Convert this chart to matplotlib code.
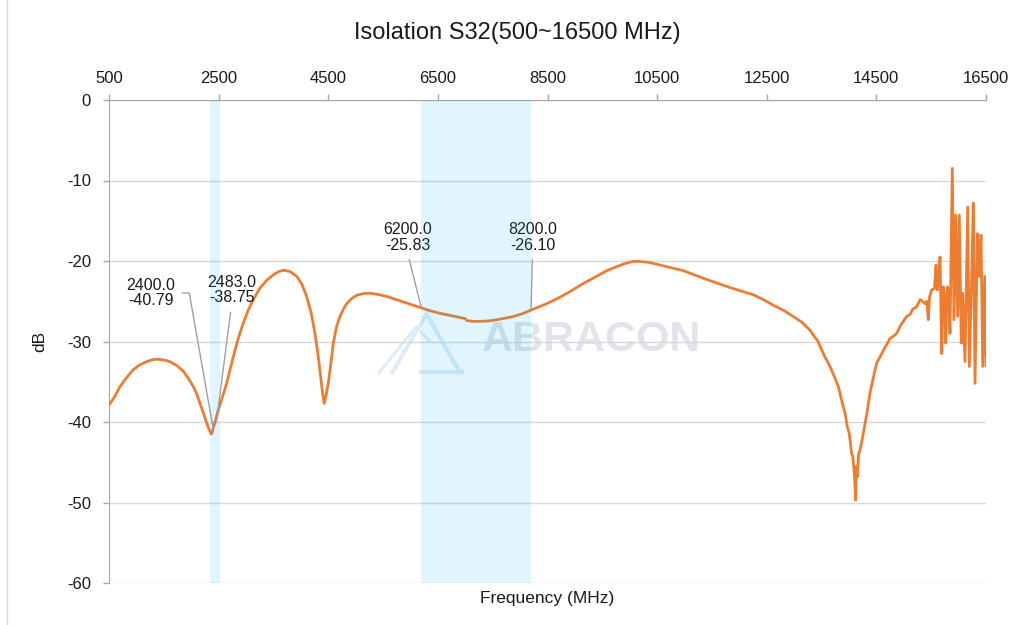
import numpy as np
import matplotlib
matplotlib.use("Agg")
import matplotlib.pyplot as plt
from matplotlib.lines import Line2D

plt.rcParams["font.family"] = ["Liberation Sans", "DejaVu Sans"]
plt.rcParams["axes.unicode_minus"] = False

# S32 trace (MHz, dB)
freq = [500, 600, 700, 820, 943, 1060, 1188, 1300, 1400, 1500, 1613, 1740, 1856, 1950,
        2038, 2100, 2160, 2220, 2282, 2330, 2365, 2385, 2400, 2440, 2483, 2560, 2647,
        2700, 2768, 2850, 2950, 3040, 3133, 3250, 3377, 3500, 3600, 3690, 3800, 3924,
        4020, 4106, 4190, 4258, 4320, 4362, 4400, 4425, 4450, 4501, 4550, 4592, 4654,
        4714, 4775, 4836, 4920, 5019, 5140, 5262, 5400, 5566, 5720, 5870, 6050, 6200,
        6370, 6539, 6750, 6964, 7000, 7025, 7150, 7269, 7420, 7573, 7730, 7877, 8040,
        8200, 8340, 8485, 8700, 8910, 9150, 9397, 9580, 9762, 9920, 10065, 10190, 10370,
        10552, 10760, 10978, 11190, 11404, 11620, 11830, 12040, 12255, 12440, 12620,
        12800, 12985, 13140, 13289, 13380, 13430, 13472, 13560, 13654, 13730, 13806,
        13870, 13928, 13970, 14000, 14019, 14050, 14070, 14080, 14100, 14122, 14135,
        14152, 14175, 14201, 14240, 14292, 14330, 14383, 14440, 14505, 14560, 14627,
        14688, 14748, 14800, 14870, 14950, 15052, 15120, 15160, 15235, 15296, 15340,
        15387, 15420, 15447, 15470, 15509, 15560, 15588, 15611, 15640, 15661, 15692,
        15721, 15745, 15765, 15794, 15820, 15843, 15885, 15916, 15947, 15983, 16013,
        16049, 16075, 16117, 16166, 16195, 16239, 16268, 16300, 16342, 16378, 16409,
        16440, 16476, 16500]
s32 = [-37.9, -36.9, -35.6, -34.5, -33.5, -32.9, -32.5, -32.25, -32.2, -32.3, -32.5, -33.0,
       -33.7, -34.6, -35.6, -36.5, -37.7, -38.9, -40.1, -41.0, -41.5, -41.3, -40.79, -39.9,
       -38.75, -37.1, -35.2, -33.7, -31.9, -29.8, -27.7, -26.1, -24.8, -23.4, -22.4, -21.7,
       -21.3, -21.15, -21.3, -21.9, -22.9, -24.4, -26.5, -29.0, -32.0, -34.4, -36.6, -37.7,
       -37.0, -35.2, -32.6, -30.2, -28.1, -26.9, -26.0, -25.3, -24.7, -24.25, -24.05, -24.0,
       -24.15, -24.4, -24.75, -25.1, -25.5, -25.83, -26.2, -26.5, -26.8, -27.1, -27.15,
       -27.4, -27.5, -27.5, -27.45, -27.3, -27.1, -26.9, -26.55, -26.10, -25.7, -25.3,
       -24.6, -23.8, -22.8, -21.9, -21.2, -20.7, -20.3, -20.05, -20.05, -20.2, -20.5,
       -20.85, -21.2, -21.75, -22.3, -22.8, -23.3, -23.75, -24.2, -24.8, -25.5, -26.1,
       -26.9, -27.6, -28.6, -29.5, -29.9, -30.6, -31.9, -33.1, -34.3, -35.6, -37.4, -38.9,
       -40.6, -41.3, -42.2, -44.0, -44.2, -45.1, -46.5, -49.7, -45.5, -46.8, -44.0, -43.5,
       -42.2, -40.2, -38.8, -36.4, -34.6, -32.7, -32.0, -31.1, -30.4, -29.6, -29.4, -29.0,
       -27.9, -26.9, -26.6, -26.0, -25.7, -24.8, -25.0, -25.3, -25.0, -27.3, -24.5, -23.6,
       -23.4, -20.5, -23.6, -22.0, -19.5, -31.5, -23.2, -24.5, -30.2, -23.2, -24.0, -29.0,
       -8.5, -27.3, -14.3, -26.9, -14.3, -30.2, -24.0, -32.5, -13.3, -33.1, -21.9, -12.8,
       -35.2, -16.6, -21.9, -16.8, -33.1, -21.9, -33.0]

# highlighted bands (MHz)
band_lo = [2345, 6200]
band_hi = [2530, 8200]

# marker labels
mark_f = [2400.0, 2483.0, 6200.0, 8200.0]
mark_db = [-40.79, -38.75, -25.83, -26.10]

x_ticks = list(range(500, 16501, 2000))
y_ticks = list(range(-60, 1, 10))

fig = plt.figure(figsize=(10.16, 6.25), dpi=100)
ax = fig.add_axes([109 / 1016, 1 - 583 / 625, 877 / 1016, 483 / 625])

ax.plot(freq, s32, color="#ED7D31", lw=2.0, zorder=3, solid_joinstyle="round")

for lo, hi in zip(band_lo, band_hi):
    ax.axvspan(lo, hi, facecolor="#00B0F0", alpha=0.12, lw=0, zorder=6)

# labels: text centre positions in data units
text_pos = [(1266, -23.98), (2735, -23.6), (5946, -17.08), (8226, -17.08)]
conn = ["angle,angleA=0,angleB=100,rad=0", "arc3", "arc3", "arc3"]
rel = [(1.0, 0.5), (0.5, 0.0), (0.5, 0.0), (0.5, 0.0)]
for f, d, tp, cs, rp in zip(mark_f, mark_db, text_pos, conn, rel):
    ax.annotate(f"{f:.1f}\n{d:.2f}", xy=(f, d), xytext=tp, ha="center", va="center",
                fontsize=11.5, color="#1a1a1a", linespacing=1.05, zorder=5,
                arrowprops=dict(arrowstyle="-", color="#a0a0a0", lw=1.0,
                                shrinkA=3, shrinkB=0, connectionstyle=cs, relpos=rp))

# watermark
ax.text(0.55, 0.503, "ABRACON", transform=ax.transAxes, ha="center", va="center",
        fontsize=31, fontweight="bold", color="#e1e4eb", zorder=0.3)
ax.plot([0.323, 0.362, 0.40], [0.436, 0.557, 0.436], transform=ax.transAxes,
        color="#dcecf8", lw=3, zorder=0.3)
ax.plot([0.308, 0.350, 0.366], [0.436, 0.53, 0.50], transform=ax.transAxes,
        color="#dcecf8", lw=2, zorder=0.3)
ax.plot([0.356, 0.403], [0.437, 0.437], transform=ax.transAxes,
        color="#dcecf8", lw=3, zorder=0.3)

ax.set_xlim(500, 16500)
ax.set_ylim(-60, 0)
ax.set_xticks(x_ticks)
ax.set_yticks(y_ticks)
ax.xaxis.tick_top()
ax.xaxis.set_label_position("bottom")
ax.set_axisbelow(True)
ax.grid(axis="y", color="#d9d9d9", lw=1.0)
for s in ["right", "bottom"]:
    ax.spines[s].set_visible(False)
ax.spines["top"].set_color("#a6a6a6")
ax.spines["left"].set_color("#a6a6a6")
ax.tick_params(axis="x", which="both", length=4, width=1, color="#a6a6a6", pad=6,
               labelsize=12, labelcolor="#1a1a1a")
ax.tick_params(axis="y", length=4, width=1, color="#a6a6a6", pad=9,
               labelsize=12, labelcolor="#1a1a1a")

ax.set_xlabel("Frequency (MHz)", fontsize=12.5, color="#1a1a1a", labelpad=6)
ax.set_ylabel("dB", fontsize=12.5, color="#1a1a1a", labelpad=14)
fig.text(517 / 1016, 1 - 33 / 625, "Isolation S32(500~16500 MHz)", ha="center", va="center",
         fontsize=17, color="#1a1a1a")

fig.add_artist(Line2D([7 / 1016, 7 / 1016], [0, 1], color="#d9d9d9", lw=1))

plt.savefig("out.png", dpi=100)
plt.close()
